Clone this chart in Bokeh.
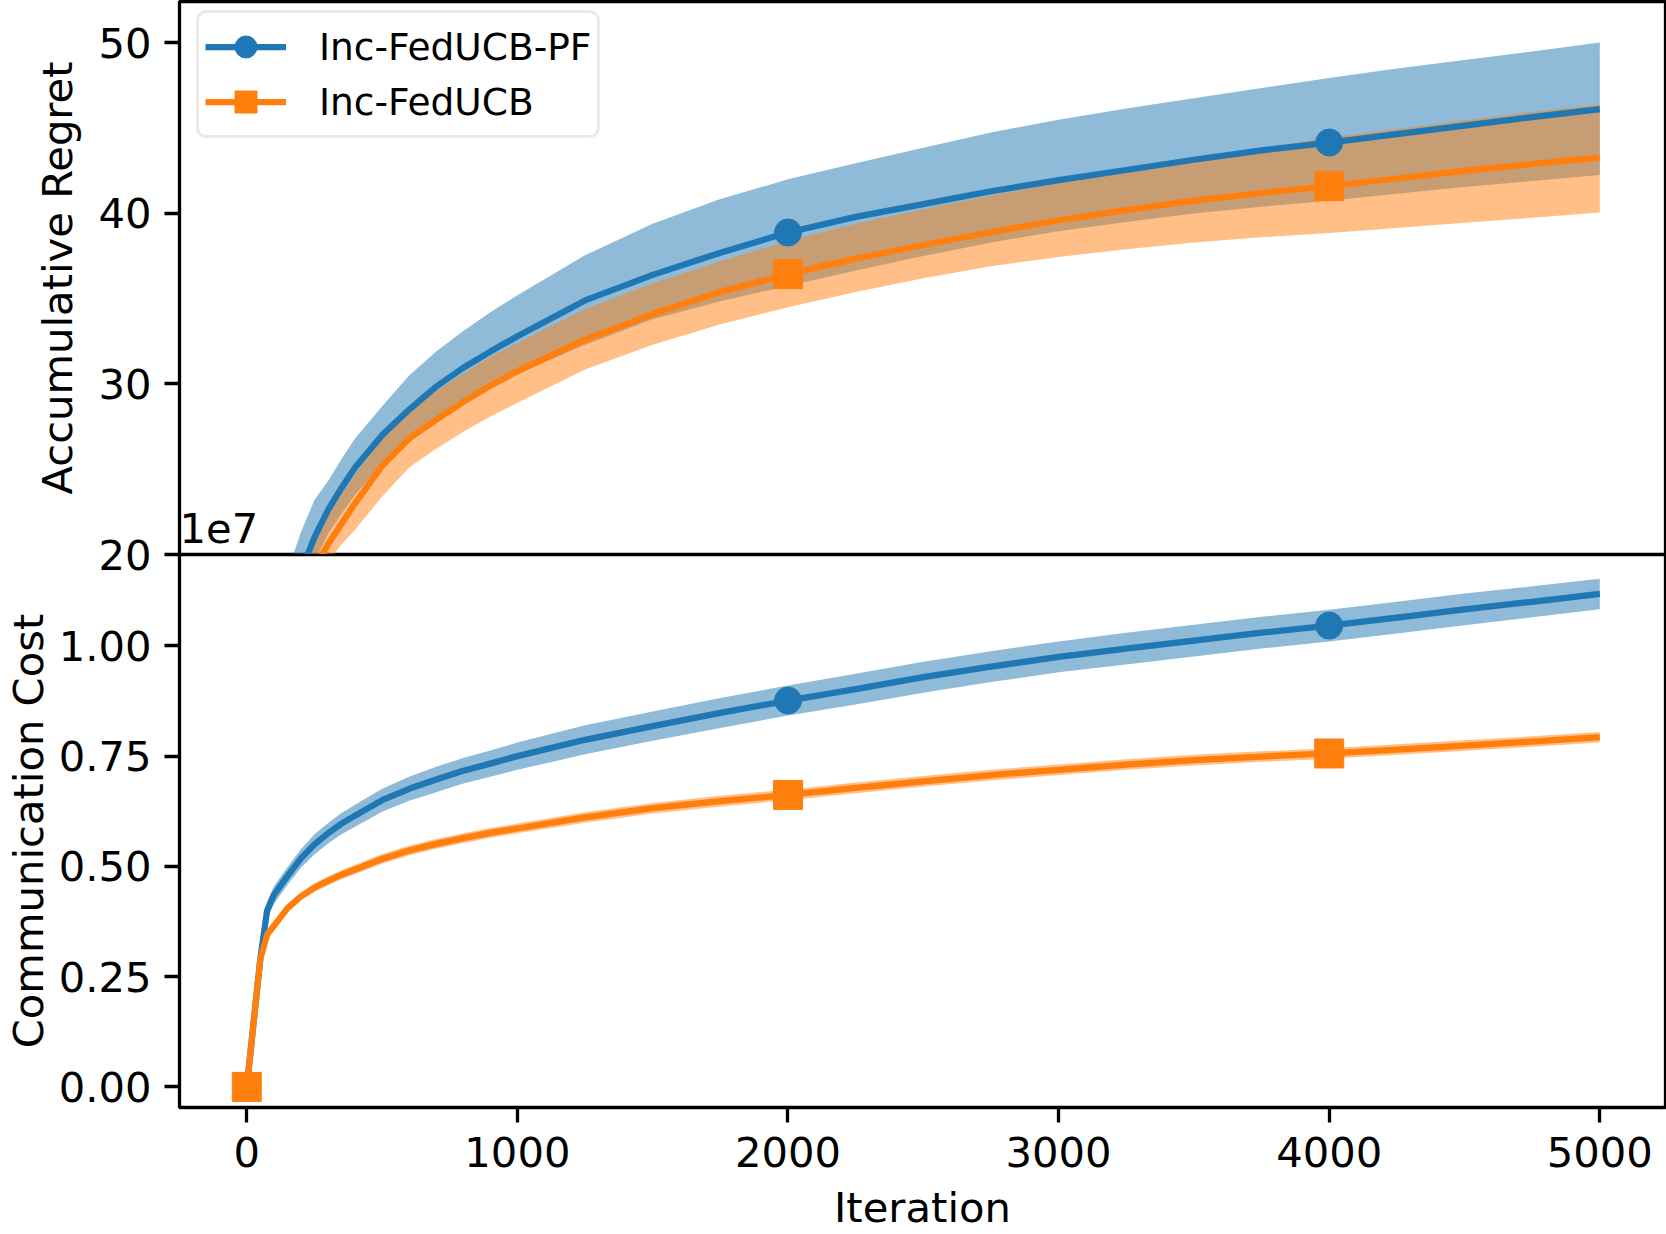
from bokeh.plotting import figure
from bokeh.layouts import column
from bokeh.models import (ColumnDataSource, Range1d, FixedTicker, PrintfTickFormatter,
                          Legend, LegendItem, Label)
from bokeh.embed import file_html
from bokeh.resources import INLINE

# ---------------- data ----------------
iterations = [0, 50, 75, 100, 150, 200, 250, 300, 350, 400, 500, 600, 700, 800, 900, 1000,
              1250, 1500, 1750, 2000, 2250, 2500, 2750, 3000, 3250, 3500, 3750, 4000,
              4250, 4500, 4750, 5000]

# Accumulative regret
regret_pf_mean = [0, 6.0, 9.2, 12.5, 16.5, 19.0, 21.0, 22.6, 23.9, 25.1, 27.0, 28.5, 29.85,
                  30.95, 31.9, 32.8, 34.9, 36.4, 37.7, 38.88, 39.8, 40.55, 41.3, 41.95,
                  42.55, 43.15, 43.7, 44.16, 44.65, 45.15, 45.65, 46.12]
regret_pf_upper = [0.5, 7.2, 10.6, 14.0, 19.0, 21.3, 23.2, 24.3, 25.6, 26.8, 28.7, 30.5, 31.9,
                   33.1, 34.2, 35.2, 37.55, 39.4, 40.85, 42.0, 42.95, 43.85, 44.75, 45.5,
                   46.15, 46.75, 47.35, 47.95, 48.5, 49.0, 49.5, 50.02]
regret_pf_lower = [0, 4.8, 7.9, 11.0, 14.8, 17.7, 19.6, 21.2, 22.4, 23.5, 25.3, 26.7, 27.9,
                   28.9, 29.8, 30.6, 32.3, 33.8, 34.85, 35.75, 36.65, 37.5, 38.3, 38.95,
                   39.5, 40.0, 40.4, 40.75, 41.15, 41.55, 41.9, 42.26]

regret_mean = [0, 4.5, 7.0, 9.5, 13.5, 16.8, 19.2, 20.6, 21.8, 23.0, 25.2, 26.8, 27.9,
               28.95, 29.9, 30.75, 32.6, 34.1, 35.4, 36.44, 37.35, 38.15, 38.9, 39.6,
               40.2, 40.75, 41.2, 41.6, 42.05, 42.5, 42.9, 43.28]
regret_upper = [0.4, 5.8, 8.4, 11.0, 15.2, 18.4, 20.8, 22.3, 23.5, 24.7, 26.8, 28.4, 29.6,
                30.6, 31.6, 32.4, 34.4, 35.9, 37.2, 38.4, 39.4, 40.25, 41.05, 41.8,
                42.45, 43.1, 43.8, 44.45, 44.95, 45.45, 45.95, 46.41]
regret_lower = [0, 3.2, 5.6, 8.0, 11.8, 15.0, 17.5, 19.5, 20.6, 21.45, 23.4, 25.1, 26.2,
                27.2, 28.1, 28.9, 30.85, 32.3, 33.5, 34.5, 35.4, 36.2, 36.9, 37.45,
                37.9, 38.3, 38.6, 38.85, 39.15, 39.45, 39.75, 40.05]

# Communication cost (x 1e7)
comm_pf_mean = [0, 0.29, 0.40, 0.435, 0.478, 0.518, 0.55, 0.575, 0.597, 0.615, 0.65, 0.676,
                0.697, 0.717, 0.733, 0.75, 0.787, 0.818, 0.848, 0.876, 0.902, 0.929, 0.953,
                0.975, 0.994, 1.012, 1.03, 1.046, 1.064, 1.083, 1.1, 1.118]
comm_pf_upper = [0, 0.30, 0.42, 0.455, 0.498, 0.539, 0.573, 0.598, 0.621, 0.64, 0.676, 0.703,
                 0.726, 0.746, 0.763, 0.781, 0.82, 0.851, 0.882, 0.91, 0.937, 0.964, 0.988,
                 1.01, 1.03, 1.048, 1.066, 1.082, 1.1, 1.119, 1.135, 1.152]
comm_pf_lower = [0, 0.28, 0.38, 0.415, 0.458, 0.497, 0.527, 0.552, 0.573, 0.59, 0.624, 0.649,
                 0.668, 0.688, 0.703, 0.719, 0.754, 0.785, 0.814, 0.842, 0.867, 0.894, 0.918,
                 0.94, 0.958, 0.976, 0.994, 1.01, 1.028, 1.047, 1.065, 1.083]

comm_mean = [0, 0.29, 0.345, 0.365, 0.405, 0.432, 0.452, 0.467, 0.481, 0.493, 0.517, 0.536,
             0.551, 0.564, 0.576, 0.586, 0.611, 0.632, 0.648, 0.662, 0.678, 0.693, 0.707,
             0.719, 0.731, 0.741, 0.749, 0.756, 0.765, 0.774, 0.783, 0.793]
comm_upper = [0, 0.295, 0.352, 0.373, 0.414, 0.441, 0.462, 0.477, 0.491, 0.503, 0.528, 0.547,
              0.562, 0.575, 0.587, 0.597, 0.623, 0.644, 0.66, 0.674, 0.69, 0.705, 0.719,
              0.731, 0.743, 0.753, 0.761, 0.768, 0.777, 0.786, 0.795, 0.805]
comm_lower = [0, 0.285, 0.338, 0.357, 0.396, 0.423, 0.442, 0.457, 0.471, 0.483, 0.506, 0.525,
              0.54, 0.553, 0.565, 0.575, 0.599, 0.62, 0.636, 0.65, 0.666, 0.681, 0.695,
              0.707, 0.719, 0.729, 0.737, 0.744, 0.753, 0.762, 0.771, 0.781]

series_names = ["Inc-FedUCB-PF", "Inc-FedUCB"]
x_ticks = [0, 1000, 2000, 3000, 4000, 5000]
regret_ticks = [20, 30, 40, 50]
comm_ticks = [0.0, 0.25, 0.5, 0.75, 1.0]
marker_every = 2000

# ---------------- style / geometry ----------------
FONT = "DejaVu Sans"
FS = "41.7px"
LEG_FS = "37.5px"
BLUE = "#1f77b4"
ORANGE = "#ff7f0e"
LW = 6.25
SPINE = 3.3

W = 1666
FRAME_L, FRAME_R = 179, 1665            # frame edges (page px)
TOP_T, MID, BOT_B = 1, 554, 1107        # frame top, shared divider, bottom frame edge
OVER = 26                               # overlap of the two canvases
TOTAL_H = 1234

X_RANGE = (-248.7, 5242.8)
Y_TOP = (20, 52.43)
Y_BOT = (-0.0467, 1.2072)


def px_to_x(px):
    return X_RANGE[0] + (px - FRAME_L) * (X_RANGE[1] - X_RANGE[0]) / (FRAME_R - FRAME_L)


def py_to_top(py):
    return Y_TOP[0] + (MID - py) * (Y_TOP[1] - Y_TOP[0]) / (MID - TOP_T)


src = ColumnDataSource(dict(
    it=iterations,
    rpm=regret_pf_mean, rpu=regret_pf_upper, rpl=regret_pf_lower,
    rm=regret_mean, ru=regret_upper, rl=regret_lower,
    cpm=comm_pf_mean, cpu=comm_pf_upper, cpl=comm_pf_lower,
    cm=comm_mean, cu=comm_upper, cl=comm_lower,
))
mk_idx = [i for i, v in enumerate(iterations) if v % marker_every == 0]
mk = ColumnDataSource(dict(
    it=[iterations[i] for i in mk_idx],
    rpm=[regret_pf_mean[i] for i in mk_idx],
    rm=[regret_mean[i] for i in mk_idx],
    cpm=[comm_pf_mean[i] for i in mk_idx],
    cm=[comm_mean[i] for i in mk_idx],
))


def style_axis(ax, standoff):
    ax.axis_line_color = None
    ax.major_tick_line_color = "black"
    ax.major_tick_line_width = SPINE
    ax.major_tick_in = 0
    ax.major_tick_out = 15
    ax.minor_tick_line_color = None
    ax.major_label_text_font = FONT
    ax.major_label_text_font_size = FS
    ax.major_label_text_color = "black"
    ax.major_label_standoff = standoff
    ax.axis_label_text_font = FONT
    ax.axis_label_text_font_size = FS
    ax.axis_label_text_font_style = "normal"
    ax.axis_label_text_color = "black"


def style_fig(p):
    p.grid.visible = False
    p.outline_line_color = "black"
    p.outline_line_width = SPINE
    p.background_fill_color = "white"
    p.border_fill_color = None


# ---------------- top: accumulative regret ----------------
top = figure(width=W, height=MID + OVER, x_range=Range1d(*X_RANGE),
             y_range=Range1d(*Y_TOP), x_axis_location=None, toolbar_location=None,
             output_backend="svg", min_border_left=FRAME_L, min_border_right=W - FRAME_R,
             min_border_top=TOP_T, min_border_bottom=OVER)
style_fig(top)
style_axis(top.yaxis[0], 13)
top.yaxis.ticker = FixedTicker(ticks=regret_ticks)
top.yaxis.formatter = PrintfTickFormatter(format="%d")
top.yaxis.axis_label = "Accumulative Regret"
top.yaxis.axis_label_standoff = 13

top.varea(x="it", y1="rpl", y2="rpu", source=src, fill_color=BLUE, fill_alpha=0.5)
top.varea(x="it", y1="rl", y2="ru", source=src, fill_color=ORANGE, fill_alpha=0.5)
l1 = top.line("it", "rpm", source=src, line_color=BLUE, line_width=LW, line_join="round")
m1 = top.scatter("it", "rpm", source=mk, marker="circle", size=27, fill_color=BLUE, line_color=BLUE)
l2 = top.line("it", "rm", source=src, line_color=ORANGE, line_width=LW, line_join="round")
m2 = top.scatter("it", "rm", source=mk, marker="square", size=29, fill_color=ORANGE, line_color=ORANGE)

legend = Legend(items=[LegendItem(label=series_names[0], renderers=[l1, m1]),
                       LegendItem(label=series_names[1], renderers=[l2, m2])],
                location=(17, 416))
legend.label_text_font = FONT
legend.label_text_font_size = LEG_FS
legend.label_text_color = "black"
legend.glyph_width = 81
legend.glyph_height = 55
legend.label_height = 55
legend.label_standoff = 33
legend.padding = 6
legend.spacing = 0
legend.margin = 0
legend.border_line_color = "#d6d6d6"
legend.border_line_width = SPINE
legend.background_fill_color = "white"
legend.background_fill_alpha = 0.8
try:
    legend.border_radius = 10
except (AttributeError, ValueError):
    pass
top.add_layout(legend)

# offset text of the lower panel (sits just above the shared divider)
top.add_layout(Label(x=px_to_x(179), y=py_to_top(527.6), text="1e7",
                     text_font=FONT, text_font_size=FS, text_color="black",
                     text_align="left", text_baseline="middle"))

# ---------------- bottom: communication cost ----------------
bot = figure(width=W, height=TOTAL_H - MID, x_range=Range1d(*X_RANGE),
             y_range=Range1d(*Y_BOT), toolbar_location=None, output_backend="svg",
             min_border_left=FRAME_L, min_border_right=W - FRAME_R, min_border_top=0,
             min_border_bottom=TOTAL_H - BOT_B, margin=(-OVER, 0, 0, 0))
style_fig(bot)
style_axis(bot.yaxis[0], 13)
style_axis(bot.xaxis[0], 14)
bot.yaxis.ticker = FixedTicker(ticks=comm_ticks)
bot.yaxis.formatter = PrintfTickFormatter(format="%.2f")
bot.yaxis.axis_label = "Communication Cost"
bot.yaxis.axis_label_standoff = 3
bot.xaxis.ticker = FixedTicker(ticks=x_ticks)
bot.xaxis.formatter = PrintfTickFormatter(format="%d")
bot.xaxis.axis_label = "Iteration"
bot.xaxis.axis_label_standoff = 13

bot.varea(x="it", y1="cpl", y2="cpu", source=src, fill_color=BLUE, fill_alpha=0.5)
bot.varea(x="it", y1="cl", y2="cu", source=src, fill_color=ORANGE, fill_alpha=0.5)
bot.line("it", "cpm", source=src, line_color=BLUE, line_width=LW, line_join="round")
bot.scatter("it", "cpm", source=mk, marker="circle", size=27, fill_color=BLUE, line_color=BLUE)
bot.line("it", "cm", source=src, line_color=ORANGE, line_width=LW, line_join="round")
bot.scatter("it", "cm", source=mk, marker="square", size=29, fill_color=ORANGE, line_color=ORANGE)

layout = column(top, bot, spacing=0)
open("out.html", "w").write(file_html(layout, INLINE))
